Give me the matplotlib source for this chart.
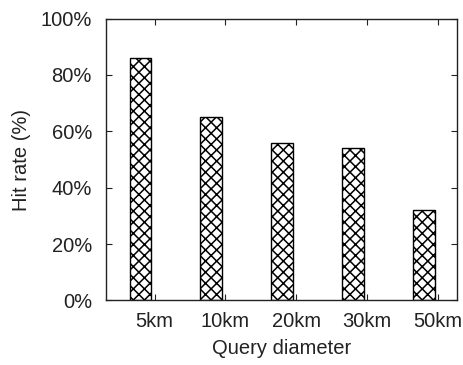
import matplotlib
matplotlib.use("Agg")
import matplotlib.pyplot as plt
from matplotlib.ticker import FuncFormatter

categories = ["5km", "10km", "20km", "30km", "50km"]
hit_rate = [86, 65, 56, 54, 32]

plt.rcParams['font.family'] = ['Liberation Sans', 'DejaVu Sans']
plt.rcParams['hatch.linewidth'] = 1.1

fig = plt.figure(figsize=(4.64, 3.65), dpi=100)
ax = fig.add_axes([0.228, 0.177, 0.757, 0.772])

pos = list(range(len(categories)))
ax.bar([p - 0.2 for p in pos], hit_rate, width=0.31, color='white',
       edgecolor='black', hatch='xxx', linewidth=1.0)

ax.set_xlim(-0.69, 4.27)
ax.set_ylim(0, 100)
ax.set_xticks(pos)
ax.set_xticklabels(categories)
ax.set_yticks([0, 20, 40, 60, 80, 100])
ax.yaxis.set_major_formatter(FuncFormatter(lambda v, p: f"{int(v)}%"))
ax.tick_params(direction='in', length=4, width=0.8, labelsize=14.5,
               top=True, right=True, colors='#222222', labelcolor='#222222')
ax.tick_params(axis='y', pad=10)
ax.tick_params(axis='x', pad=8)
for s in ax.spines.values():
    s.set_linewidth(1.0)
    s.set_color('#222222')

ax.set_xlabel("Query diameter", fontsize=14.5, color='#222222', labelpad=6)
ax.set_ylabel("Hit rate (%)", fontsize=14.5, color='#222222', labelpad=7)

fig.savefig("out.png", dpi=100)
